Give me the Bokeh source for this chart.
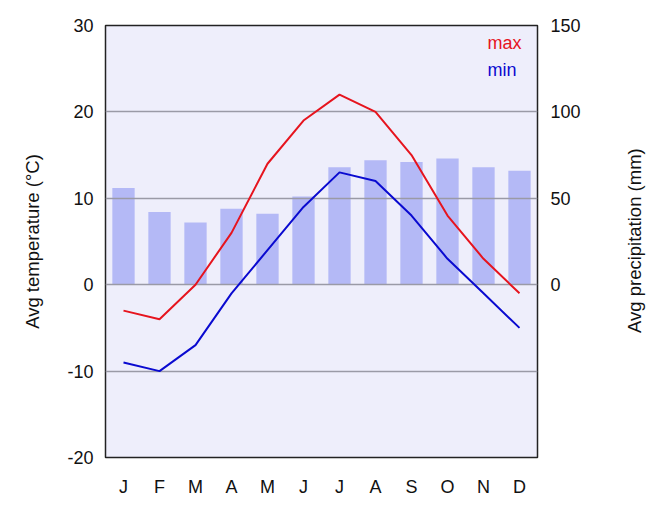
import math
from bokeh.plotting import figure
from bokeh.layouts import row
from bokeh.models import Range1d, LinearAxis, FixedTicker, Label
from bokeh.embed import file_html
from bokeh.resources import INLINE

months = ["J", "F", "M", "A", "M", "J", "J", "A", "S", "O", "N", "D"]
month_idx = list(range(1, 13))
temp_max = [-3, -4, 0, 6, 14, 19, 22, 20, 15, 8, 3, -1]
temp_min = [-9, -10, -7, -1, 4, 9, 13, 12, 8, 3, -1, -5]
precip = [56, 42, 36, 44, 41, 51, 68, 72, 71, 73, 68, 66]
temp_ticks = [-20, -10, 0, 10, 20, 30]
grid_vals = [-10, 0, 10, 20]
precip_ticks = [0, 50, 100, 150]

FONT = "Liberation Sans"

p = figure(frame_width=432, frame_height=432, output_backend="svg", toolbar_location=None,
           x_range=Range1d(0.5, 12.5), y_range=Range1d(-20, 30),
           min_border_left=105, min_border_top=25, min_border_right=83, min_border_bottom=40)
p.extra_y_ranges = {"prec": Range1d(-100, 150)}
p.background_fill_color = "#eeeefb"
p.border_fill_color = "white"
p.outline_line_color = "#222222"
p.outline_line_width = 1.5
p.xgrid.visible = False
p.ygrid.visible = False

# bars (precipitation)
p.vbar(x=month_idx, top=precip, bottom=0, width=0.62, y_range_name="prec",
       fill_color="#b4b9f6", line_color=None)
# grid lines over bars
p.hspan(y=grid_vals, line_color="#9a9aa6", line_width=1.3)
# temperature lines
p.line(month_idx, temp_max, line_color="#e6141e", line_width=2)
p.line(month_idx, temp_min, line_color="#0a0ad0", line_width=2)

# axes
ax = p.xaxis[0]
ax.ticker = FixedTicker(ticks=month_idx)
ax.major_label_overrides = {i: m for i, m in zip(month_idx, months)}
ay = p.yaxis[0]
ay.ticker = FixedTicker(ticks=temp_ticks)
ay.major_label_overrides = {t: str(t) for t in temp_ticks}
ay.axis_label = "Avg temperature (°C)"
ry = LinearAxis(y_range_name="prec", ticker=FixedTicker(ticks=precip_ticks))
p.add_layout(ry, "right")
for a in (ax, ay, ry):
    a.axis_line_color = None
    a.major_tick_line_color = None
    a.minor_tick_line_color = None
    a.major_tick_out = 0
    a.major_tick_in = 0
    a.major_label_text_font = FONT
    a.major_label_text_font_size = "18px"
    a.major_label_text_color = "#111111"
    a.axis_label_text_font = FONT
    a.axis_label_text_font_size = "18.5px"
    a.axis_label_text_font_style = "normal"
    a.axis_label_text_color = "#111111"
ax.major_label_standoff = 19
ay.major_label_standoff = 12
ry.major_label_standoff = 13
ay.axis_label_standoff = 21

p.add_layout(Label(x=11.11, y=28.0, text="max", text_color="#e6141e", text_font=FONT,
                   text_font_size="18px", text_baseline="middle"))
p.add_layout(Label(x=11.11, y=24.8, text="min", text_color="#0a0ad0", text_font=FONT,
                   text_font_size="18px", text_baseline="middle"))

# right axis title in a narrow companion panel
p2 = figure(frame_width=30, frame_height=432, output_backend="svg", toolbar_location=None,
            x_range=Range1d(0, 30), y_range=p.y_range,
            min_border_left=0, min_border_right=0, min_border_top=25, min_border_bottom=40)
p2.axis.visible = False
p2.grid.visible = False
p2.outline_line_color = None
p2.background_fill_color = "white"
p2.border_fill_color = "white"
p2.add_layout(Label(x=14, y=5.1, text="Avg precipitation (mm)", angle=math.pi / 2,
                    text_align="center", text_baseline="middle", text_font=FONT,
                    text_font_size="18.5px", text_color="#111111"))

layout = row(p, p2)
open("out.html", "w").write(file_html(layout, INLINE))
